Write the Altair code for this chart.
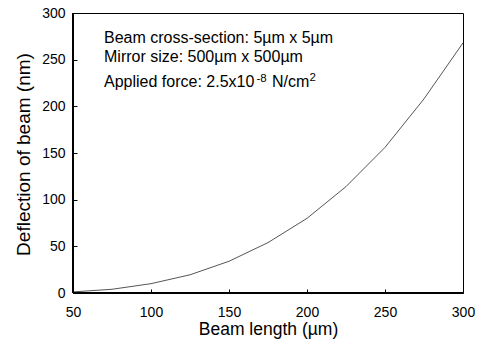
import altair as alt
import pandas as pd

# Data
beam_length = [50, 75, 100, 125, 150, 175, 200, 225, 250, 275, 300]
deflection = [1.2, 4.0, 10.0, 19.5, 34.0, 54.0, 80.0, 114.0, 156.0, 208.0, 268.0]
x_ticks = [50, 100, 150, 200, 250, 300]
y_ticks = [0, 50, 100, 150, 200, 250, 300]

ann_lines = ["Beam cross-section: 5\u00b5m x 5\u00b5m", "Mirror size: 500\u00b5m x 500\u00b5m"]
ann_force_main = "Applied force: 2.5x10"
ann_force_exp = "-8"
ann_force_unit = "N/cm"
ann_force_unit_exp = "2"

FONT = "Liberation Sans"
W, H = 390, 280

df = pd.DataFrame({"L": beam_length, "D": deflection})

base = alt.Chart(df)

line = base.mark_line(color="#555555", strokeWidth=1).encode(
    x=alt.X("L:Q", scale=alt.Scale(domain=[50, 300], nice=False, zero=False),
            axis=alt.Axis(values=x_ticks, title="Beam length (\u00b5m)", offset=-4,
                          tickSize=4, labelPadding=12, labelFlush=False,
                          titleBaseline="alphabetic", titleY=45, titleFontSize=17.5,
                          titleFontWeight="normal")),
    y=alt.Y("D:Q", scale=alt.Scale(domain=[0, 300], nice=False),
            axis=alt.Axis(values=y_ticks, title="Deflection of beam (nm)", offset=-4,
                          tickSize=4, labelPadding=8, labelFlush=False,
                          titleAngle=270, titleBaseline="alphabetic", titleAlign="center",
                          titleX=-48, titleY=141, titleFontSize=19,
                          titleFontWeight="normal")),
)

left_edge = base.mark_rule(color="black", strokeWidth=2).encode(
    x=alt.value(0), y=alt.value(0), y2=alt.value(H))
bottom_edge = base.mark_rule(color="black", strokeWidth=2).encode(
    x=alt.value(0), x2=alt.value(W), y=alt.value(H))

def txt(s, x, y, size):
    return alt.Chart(pd.DataFrame({"t": [s]})).mark_text(
        align="left", baseline="alphabetic", font=FONT, fontSize=size, color="black"
    ).encode(text="t:N", x=alt.value(x), y=alt.value(y))

t1 = txt(ann_lines[0], 31, 30, 16)
t2 = txt(ann_lines[1], 31, 49, 16)
t3 = txt(ann_force_main, 31, 74, 16)
t4 = txt(ann_force_exp, 183.5, 69, 11.5)
t5 = txt(ann_force_unit, 199, 74, 16)
t6 = txt(ann_force_unit_exp, 236.5, 68, 11.5)

chart = alt.layer(line, left_edge, bottom_edge, t1, t2, t3, t4, t5, t6).properties(
    width=W, height=H,
    autosize=alt.AutoSizeParams(type="none"),
    padding={"left": 73, "top": 13, "right": 19, "bottom": 54},
    background="white",
).configure_view(
    stroke="black", strokeWidth=1
).configure_axis(
    grid=False, domain=False, tickColor="black", tickWidth=1,
    labelFont=FONT, labelFontSize=14, labelColor="black",
    titleFont=FONT, titleColor="black",
)

chart.save("out.html", embed_options={"renderer": "svg", "actions": False})
